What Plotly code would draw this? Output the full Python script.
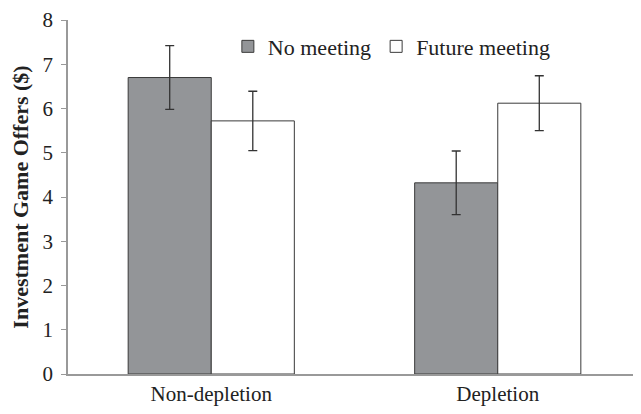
import plotly.graph_objects as go

categories = ["Non-depletion", "Depletion"]
no_meeting = [6.70, 4.32]
no_meeting_err = [0.72, 0.72]
future_meeting = [5.72, 6.12]
future_meeting_err = [0.67, 0.62]
y_ticks = [0, 1, 2, 3, 4, 5, 6, 7, 8]

font = "Liberation Serif, Times New Roman, serif"

fig = go.Figure()
fig.add_trace(go.Bar(
    x=categories, y=no_meeting, name="No meeting",
    marker=dict(color="#939598", line=dict(color="#3a3a3a", width=1)),
    error_y=dict(type="data", array=no_meeting_err, color="#333333", thickness=1.3, width=4.5),
))
fig.add_trace(go.Bar(
    x=categories, y=future_meeting, name="Future meeting",
    marker=dict(color="white", line=dict(color="#3a3a3a", width=1)),
    error_y=dict(type="data", array=future_meeting_err, color="#333333", thickness=1.3, width=4.5),
))

fig.update_layout(
    width=633, height=406,
    margin=dict(l=60, r=0, t=12, b=40),
    plot_bgcolor="white", paper_bgcolor="white",
    barmode="group", bargap=0.42, bargroupgap=0,
    font=dict(family=font, color="#222222"),
    showlegend=True,
    legend=dict(orientation="h", x=0.279, y=0.925, xanchor="left", yanchor="middle",
                font=dict(size=22, family=font, color="#222222"),
                bgcolor="rgba(0,0,0,0)", itemwidth=30, tracegroupgap=0),
    xaxis=dict(showline=True, linecolor="#999999", linewidth=1.5, ticks="", automargin=False,
               tickfont=dict(size=21, family=font, color="#222222"), showgrid=False),
    yaxis=dict(range=[0, 8], tickvals=y_ticks, showline=True, linecolor="#999999", linewidth=1.5,
               ticks="outside", ticklen=5, tickcolor="#999999", showgrid=False, zeroline=False,
               automargin=False, ticklabeloverflow="allow", ticklabelstandoff=4,
               tickfont=dict(size=21, family=font, color="#222222"),
               title=dict(text="<b>Investment Game Offers ($)</b>", font=dict(size=22, family=font, color="#222222"),
                          standoff=10)),
)

fig.write_html("out.html")
